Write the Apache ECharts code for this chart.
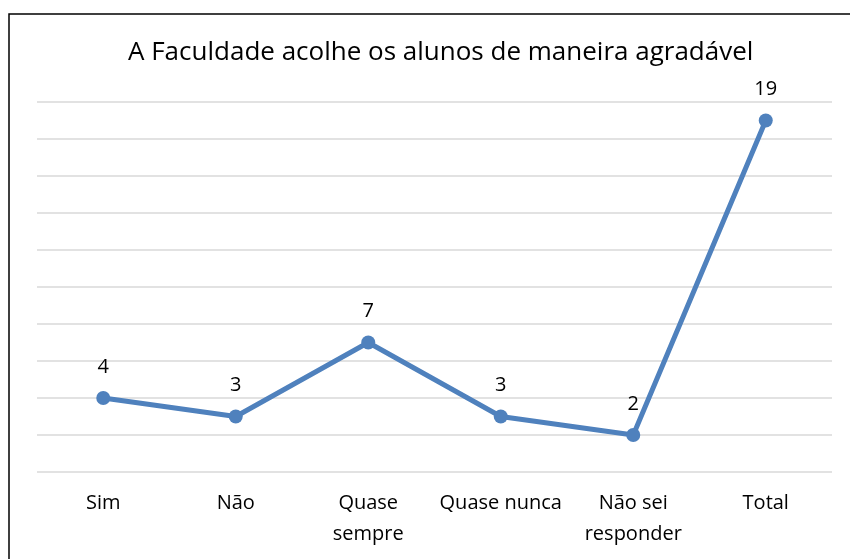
<!DOCTYPE html>
<html>
<head>
<meta charset="utf-8">
<script src="https://cdn.jsdelivr.net/npm/echarts@6/dist/echarts.min.js"></script>
<style>
  html, body { margin: 0; padding: 0; background: #fff; }
  #main { width: 850px; height: 559px; }
</style>
</head>
<body>
<div id="main"></div>
<script>
  // categorias e valores
  const categorias = ['Sim', 'Não', 'Quase\nsempre', 'Quase nunca', 'Não sei\nresponder', 'Total']
  const valores = [4, 3, 7, 3, 2, 19]

  const chart = echarts.init(document.getElementById('main'))
  const fonte = '"Open Sans", sans-serif'

  const option = {
    animation: false,
    title: {
      text: 'A Faculdade acolhe os alunos de maneira agradável',
      left: 123,
      top: 35,
      textStyle: { fontFamily: fonte, fontSize: 26, fontWeight: 'normal', color: '#000' }
    },
    graphic: [
      {
        type: 'rect',
        shape: { x: 9, y: 14, width: 900, height: 600 },
        style: { fill: 'none', stroke: '#000', lineWidth: 1.5 }
      }
    ],
    grid: { left: 37, right: 18, top: 102, bottom: 87 },
    xAxis: {
      type: 'category',
      data: categorias,
      axisLine: { show: false },
      axisTick: { show: false },
      axisLabel: {
        margin: 16,
        fontFamily: fonte,
        fontSize: 20,
        lineHeight: 31,
        color: '#000',
        interval: 0
      }
    },
    yAxis: {
      type: 'value',
      min: 0,
      max: 20,
      interval: 2,
      axisLabel: { show: false },
      axisLine: { show: false },
      axisTick: { show: false },
      splitLine: { lineStyle: { color: '#D9D9D9', width: 1.5 } }
    },
    series: [
      {
        type: 'line',
        data: valores,
        symbol: 'circle',
        symbolSize: 14,
        lineStyle: { color: '#4F81BD', width: 5 },
        itemStyle: { color: '#4F81BD' },
        label: {
          show: true,
          position: 'top',
          distance: 14,
          fontFamily: fonte,
          fontSize: 20,
          color: '#000'
        }
      }
    ]
  }

  chart.setOption(option)
</script>
</body>
</html>
